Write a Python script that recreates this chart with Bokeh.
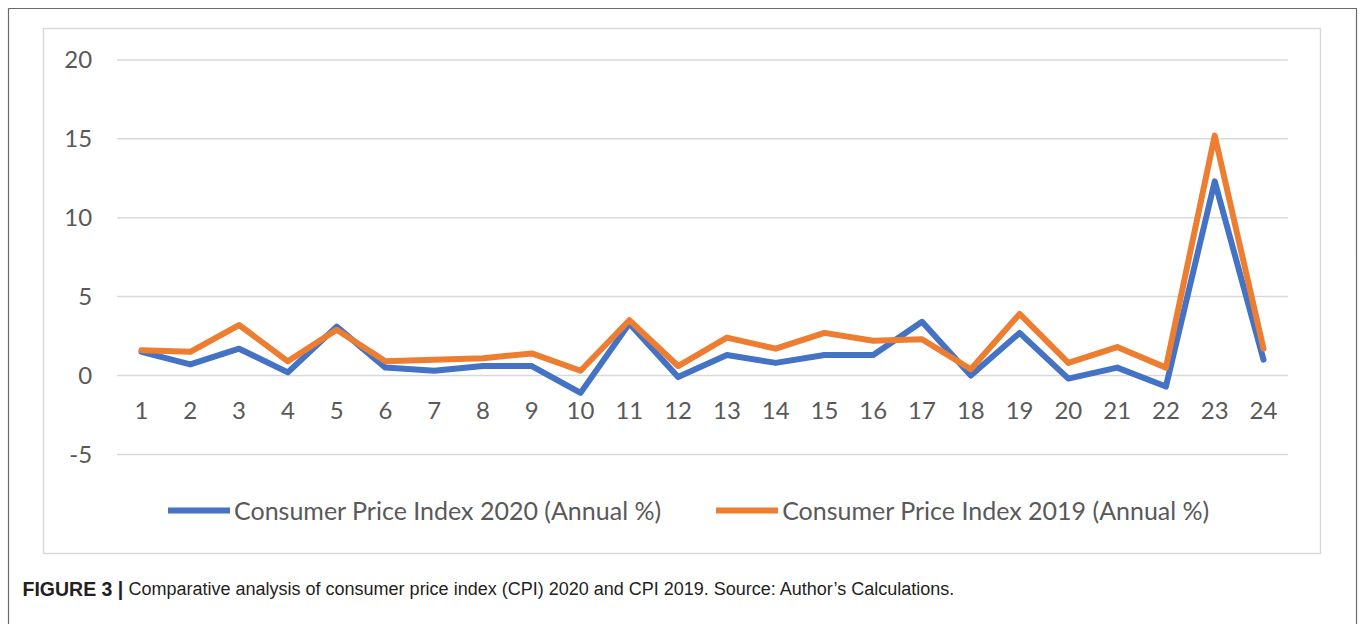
from bokeh.plotting import figure
from bokeh.models import Legend, LegendItem, Label, BoxAnnotation
from bokeh.core.properties import value
from bokeh.embed import file_html
from bokeh.resources import INLINE

# ---- data ----
categories = [str(i) for i in range(1, 25)]
cpi_2020 = [1.5, 0.7, 1.7, 0.2, 3.1, 0.5, 0.3, 0.6, 0.6, -1.1, 3.3, -0.1,
            1.3, 0.8, 1.3, 1.3, 3.4, 0.0, 2.7, -0.2, 0.5, -0.7, 12.3, 1.0]
cpi_2019 = [1.6, 1.5, 3.2, 0.9, 2.9, 0.9, 1.0, 1.1, 1.4, 0.3, 3.5, 0.6,
            2.4, 1.7, 2.7, 2.2, 2.3, 0.4, 3.9, 0.8, 1.8, 0.5, 15.2, 1.7]
y_ticks = [-5, 0, 5, 10, 15, 20]
series_names = ["Consumer Price Index 2020 (Annual %)",
                "Consumer Price Index 2019 (Annual %)"]
caption_bold = "FIGURE 3 |"
caption_text = ("Comparative analysis of consumer price index (CPI) 2020 and CPI 2019. "
                "Source: Author\u2019s Calculations.")

xs = list(range(1, len(categories) + 1))
BLUE = "#4472C4"
ORANGE = "#ED7D31"
GRID = "#D9D9D9"
TXT = "#595959"
FONT = "Lato"

# frame = whole canvas
p = figure(width=1362, height=624,
           x_range=(-1.8904, 26.0294), y_range=(-15.779, 23.764),
           x_axis_type=None, y_axis_type=None,
           min_border=0,
           output_backend="svg", toolbar_location=None,
           outline_line_color=None,
           background_fill_color="white", border_fill_color="white")
p.xgrid.visible = False
p.ygrid.visible = False

# outer figure box (open at the bottom edge of the page)
p.add_layout(BoxAnnotation(left=-1.7264, right=25.9064, top=23.257, bottom=None,
                           fill_alpha=0, line_color="#6a6a6a", line_alpha=1.0,
                           line_width=1.2))
# inner chart-area box
p.add_layout(BoxAnnotation(left=-1.009, right=25.168, top=21.99, bottom=-11.28,
                           fill_alpha=0, line_color=GRID, line_alpha=1.0,
                           line_width=1.5))

# gridlines from tick values
n = len(y_ticks)
p.segment(x0=[0.5] * n, x1=[len(categories) + 0.5] * n, y0=y_ticks, y1=y_ticks,
          line_color=GRID, line_width=1.5)

# y tick labels
p.text(x=[0.5] * n, y=y_ticks, text=[str(t) for t in y_ticks],
       x_offset=-25, text_align="right", text_baseline="middle",
       text_font=value(FONT), text_font_size="24px", text_color=TXT)

# category labels at the zero line
p.text(x=xs, y=[0] * len(xs), text=categories, y_offset=35,
       text_align="center", text_baseline="middle",
       text_font=value(FONT), text_font_size="24px", text_color=TXT)

r1 = p.line(xs, cpi_2020, line_color=BLUE, line_width=6,
            line_join="round", line_cap="round")
r2 = p.line(xs, cpi_2019, line_color=ORANGE, line_width=6,
            line_join="round", line_cap="round")

legend = Legend(items=[LegendItem(label=series_names[0], renderers=[r1]),
                       LegendItem(label=series_names[1], renderers=[r2])],
                orientation="horizontal", location=(168, 99),
                padding=0, margin=0, spacing=55,
                glyph_width=62, glyph_height=20, label_standoff=4,
                border_line_color=None, background_fill_alpha=0,
                label_text_font=FONT, label_text_font_size="25px",
                label_text_color=TXT)
p.add_layout(legend)

p.add_layout(Label(x=-1.439, y=-13.5, text=caption_bold,
                   text_font="Liberation Sans", text_font_style="bold",
                   text_font_size="19.5px", text_baseline="middle",
                   text_color="#231F20"))
p.add_layout(Label(x=0.7335, y=-13.5, text=caption_text,
                   text_font="Liberation Sans", text_font_size="18px",
                   text_baseline="middle", text_color="#231F20"))

open("out.html", "w").write(file_html(p, INLINE))
